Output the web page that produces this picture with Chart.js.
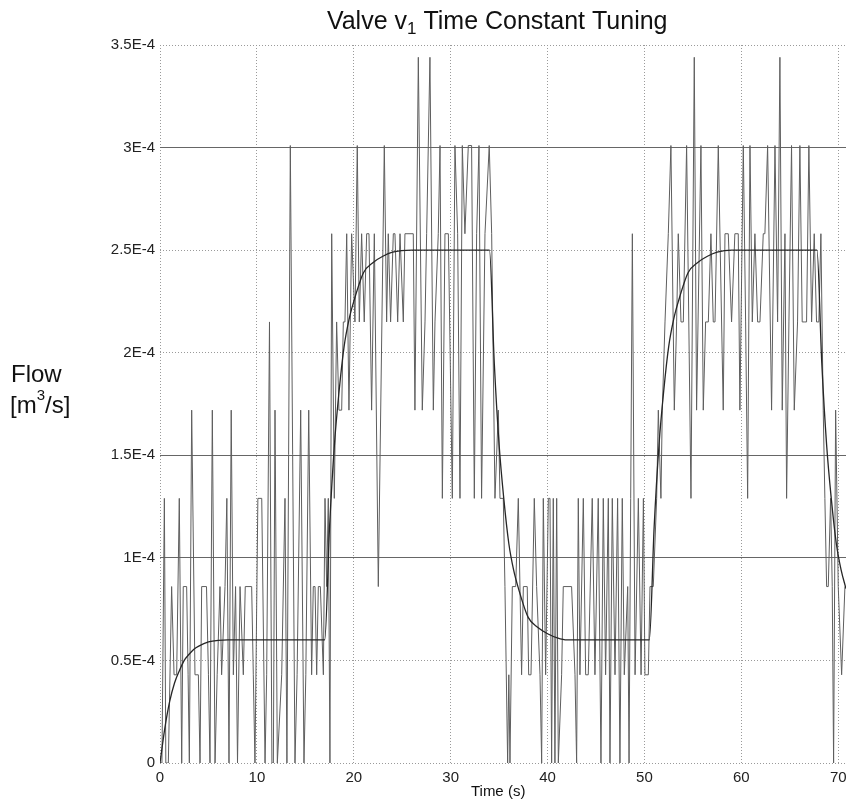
<!DOCTYPE html>
<html>
<head>
<meta charset="utf-8">
<script src="https://cdn.jsdelivr.net/npm/chart.js@4.4.1/dist/chart.umd.min.js"></script>
<style>
  html, body { margin: 0; padding: 0; background: #fff; overflow: hidden; }
</style>
</head>
<body>
<canvas id="myChart" width="846" height="800"></canvas>
<script>
// values are in units of 1E-4 m3/s, time in seconds
var xTicks = [0, 10, 20, 30, 40, 50, 60, 70];
var yTickLabels = ["0", "0.5E-4", "1E-4", "1.5E-4", "2E-4", "2.5E-4", "3E-4", "3.5E-4"];
var darkLines = [1, 1.5, 3];

// measured flow (quantised, noisy)
var measured = [
  [0,0],[0.2,0],[0.45,1.29],[0.6,0],[0.86,0],[1.2,0.86],[1.45,0.43],[1.72,0.43],[1.99,1.29],[2.24,0],
  [2.4,0.86],[2.75,0.86],[2.9,0.43],[3.03,0],[3.27,1.72],[3.61,0.43],[3.96,0.43],[4.13,0],[4.3,0.86],[4.8,0.86],
  [5.0,0.43],[5.16,0],[5.4,1.72],[5.68,0],[5.9,0.43],[6.19,0.86],[6.36,0.43],[6.71,0.86],[6.9,1.29],[7.12,0],
  [7.35,1.72],[7.57,0.43],[7.8,0.86],[8.0,0],[8.26,0.86],[8.6,0.43],[8.8,0.86],[9.46,0.86],[9.63,0.43],[9.8,0],
  [10.1,1.29],[10.5,1.29],[10.84,0],[11.01,0.43],[11.3,2.15],[11.55,0],[11.7,0],[11.87,1.72],[12.11,0],[12.56,0.43],
  [12.9,1.29],[13.1,0],[13.45,3.01],[13.93,0],[14.15,0.43],[14.52,1.72],[14.86,0],[15.05,0.43],[15.35,1.72],[15.65,0.43],
  [15.82,0.86],[16.0,0.86],[16.17,0.43],[16.34,0.86],[16.55,0.86],[16.86,0.43],
  [17.03,1.29],[17.2,0.86],[17.37,1.29],[17.54,0],[17.72,2.58],[17.99,1.29],[18.23,2.15],[18.47,1.72],[18.75,1.72],[18.92,2.15],
  [19.09,2.15],[19.27,2.58],[19.5,1.72],[19.78,2.58],[20.12,2.15],[20.36,3.01],[20.57,2.15],[20.81,2.58],[21.08,2.15],[21.33,2.58],
  [21.57,2.58],[21.84,1.72],[22.12,2.58],[22.53,0.86],[23.15,3.01],[23.39,2.15],[23.56,2.58],[23.8,2.15],[24.08,2.58],[24.25,2.58],
  [24.53,2.15],[24.77,2.58],[25.11,2.15],[25.28,2.58],[26.14,2.58],[26.31,1.72],[26.66,3.44],[27.07,1.72],[27.35,2.15],[27.52,2.58],
  [27.86,3.44],[28.21,1.72],[28.38,2.15],[28.72,2.58],[28.9,3.01],[29.14,1.29],[29.41,2.58],[29.76,2.58],[30.17,1.29],[30.44,3.01],
  [30.72,2.58],[30.96,1.29],[31.2,3.01],[31.47,2.58],[31.82,3.01],[32.16,3.01],[32.44,1.29],[32.68,2.58],[32.92,3.01],[33.19,1.29],
  [33.54,2.58],[33.98,3.01],[34.23,2.58],
  [34.57,1.29],[34.92,1.72],[35.09,1.29],[35.43,1.29],[35.6,0.86],[35.88,0],[36.0,0.43],[36.12,0],[36.36,0.86],[36.71,0.86],
  [36.98,1.29],[37.32,0.43],[37.5,0.86],[37.9,0.86],[38.05,0.43],[38.29,0.43],[38.63,1.29],[38.87,0.86],[39.22,0.43],[39.39,0],
  [39.56,1.29],[39.8,0.43],[40.08,1.29],[40.25,1.29],[40.42,0],[40.59,1.29],[40.76,0],[40.94,1.29],[41.11,0],[41.45,0.43],
  [41.62,0.86],[42.48,0.86],[42.83,0.43],[43.0,0],[43.17,1.29],[43.34,0.43],[43.69,1.29],[43.93,0.43],[44.2,0.43],[44.61,1.29],
  [44.89,0.43],[45.23,1.29],[45.51,0],[45.75,1.29],[45.99,0.43],[46.27,1.29],[46.44,0],[46.68,1.29],[46.96,0.43],[47.23,1.29],
  [47.47,0],[47.71,1.29],[47.92,0.43],[48.27,0.86],[48.41,0],[48.75,2.58],[49.03,0.43],[49.37,1.29],[49.65,0.43],[49.89,1.29],
  [50.05,0.43],[50.4,0.43],[50.57,0.86],[50.91,0.86],[51.26,1.29],[51.43,1.72],[51.7,1.29],[51.84,1.72],
  [52.12,2.15],[52.46,2.58],[52.73,3.01],[53.08,1.72],[53.32,2.15],[53.49,2.58],[53.77,2.15],[54.01,2.15],[54.35,3.01],[54.8,1.29],
  [55.14,3.44],[55.38,1.72],[55.83,3.01],[56.07,1.72],[56.31,2.15],[56.59,2.15],[56.86,2.58],[57.1,2.15],[57.28,2.15],[57.62,3.01],
  [58.13,1.72],[58.31,2.58],[58.65,2.58],[58.99,2.15],[59.33,2.58],[59.68,2.58],[59.85,1.72],[60.2,3.01],[60.44,2.15],[60.65,1.29],
  [60.89,3.01],[61.13,2.15],[61.4,2.58],[61.68,2.15],[61.92,2.15],[62.26,2.58],[62.43,2.58],[62.71,3.01],[63.12,1.72],[63.47,3.01],
  [63.74,2.15],[63.98,3.44],[64.22,1.72],[64.5,2.58],[64.67,1.29],[64.91,2.15],[65.18,3.01],[65.46,1.72],[65.8,2.15],[66.04,3.01],
  [66.28,2.15],[66.49,2.15],[66.73,2.15],[66.97,3.01],[67.25,2.15],[67.52,2.58],[67.76,2.15],[68.0,2.15],[68.21,2.58],[68.45,1.72],
  [68.62,1.29],[68.8,0.86],[68.97,0.86],[69.21,1.29],[69.38,0.86],[69.52,0],[69.73,1.72],[70.0,0.86],[70.35,0.43],[70.69,0.86]
];

// model response (smooth curve)
var model = [
  [0,0],[0.5,0.17],[1,0.3],[1.5,0.39],[2,0.45],[2.5,0.5],[3,0.53],[3.5,0.555],[4,0.57],[5,0.59],[6,0.598],[7,0.6],
  [17,0.6],[17.5,1.15],[18,1.55],[18.5,1.82],[19,2.03],[19.5,2.16],[20,2.25],[21,2.39],[22,2.44],[23,2.47],[24,2.49],[26,2.5],
  [34,2.5],[34.5,1.95],[35,1.55],[35.5,1.28],[36,1.07],[36.5,0.94],[37,0.85],[38,0.71],[39,0.66],[40,0.63],[41,0.61],[42,0.6],
  [50.5,0.6],[51,1.15],[51.5,1.55],[52,1.82],[52.5,2.03],[53,2.16],[53.5,2.25],[54.5,2.39],[55.5,2.44],[56.5,2.47],[57.5,2.49],[59,2.5],
  [67.8,2.5],[68.3,1.95],[68.8,1.55],[69.3,1.28],[69.8,1.07],[70.3,0.94],[70.8,0.85]
];

var FONT = "'Liberation Sans', Arial, sans-serif";

function toXY(pts) {
  return pts.map(function(p){ return {x: p[0], y: p[1]}; });
}

var textPlugin = {
  id: "texts",
  afterDraw: function(chart) {
    var c = chart.ctx;
    var xs = chart.scales.x;
    c.save();
    c.fillStyle = "#111";
    c.textBaseline = "alphabetic";
    c.textAlign = "left";

    // title with subscript
    var big = "25px " + FONT, small = "17px " + FONT;
    var a = "Valve v", b = "1", d = " Time Constant Tuning";
    c.font = big; var wa = c.measureText(a).width, wd = c.measureText(d).width;
    c.font = small; var wb = c.measureText(b).width;
    var x0 = xs.getPixelForValue(34.8) - (wa + wb + wd) / 2;
    var ty = 29;
    c.font = big; c.fillText(a, x0, ty);
    c.font = small; c.fillText(b, x0 + wa, ty + 5);
    c.font = big; c.fillText(d, x0 + wa + wb, ty);

    // y axis label, horizontal, with superscript
    var lf = "24px " + FONT, sf = "15px " + FONT;
    c.font = lf; c.fillText("Flow", 11, 382);
    var p1 = "[m", p2 = "3", p3 = "/s]";
    c.font = lf; var w1 = c.measureText(p1).width;
    c.font = sf; var w2 = c.measureText(p2).width;
    c.font = lf; c.fillText(p1, 10, 413);
    c.font = sf; c.fillText(p2, 10 + w1, 400);
    c.font = lf; c.fillText(p3, 10 + w1 + w2, 413);

    // x axis title
    c.font = "15px " + FONT;
    c.textAlign = "center";
    c.fillText("Time (s)", xs.getPixelForValue(34.9), 796);
    c.restore();
  }
};

var ctx = document.getElementById("myChart").getContext("2d");
var myChart = new Chart(ctx, {
  type: "line",
  data: {
    datasets: [{
      label: "model",
      data: toXY(model),
      borderColor: "#262626",
      borderWidth: 1.3,
      pointRadius: 0,
      cubicInterpolationMode: "monotone",
      fill: false
    }, {
      label: "measured",
      data: toXY(measured),
      borderColor: "#5e5e5e",
      borderWidth: 1,
      pointRadius: 0,
      tension: 0,
      fill: false
    }]
  },
  options: {
    responsive: false,
    animation: false,
    devicePixelRatio: 1,
    layout: { padding: { top: 45, left: 0, right: 0, bottom: 0 } },
    plugins: {
      legend: { display: false },
      tooltip: { enabled: false },
      title: { display: false }
    },
    scales: {
      x: {
        type: "linear",
        min: 0,
        max: 70.8,
        afterBuildTicks: function(s) { s.ticks = xTicks.map(function(v){ return {value: v}; }); },
        afterFit: function(s) { s.height = 37; s.paddingLeft = 0; s.paddingRight = 0; },
        grid: { color: "#9a9a9a", lineWidth: 1, drawTicks: false },
        border: { display: false, dash: [1, 2] },
        ticks: {
          color: "#222",
          font: { size: 15, family: FONT },
          padding: 6,
          maxRotation: 0,
          autoSkip: false
        }
      },
      y: {
        type: "linear",
        position: "left",
        min: 0,
        max: 3.5,
        afterBuildTicks: function(s) { s.ticks = yTickLabels.map(function(l, i){ return {value: i * 0.5}; }); },
        afterFit: function(s) { s.width = 160; s.paddingTop = 0; s.paddingBottom = 0; },
        grid: { color: "#9a9a9a", lineWidth: 1, drawTicks: false },
        border: { display: false, dash: [1, 2] },
        ticks: {
          color: "#222",
          font: { size: 15, family: FONT },
          padding: 5,
          callback: function(v) { return yTickLabels[Math.round(v * 2)]; }
        }
      },
      yDark: {
        type: "linear",
        position: "left",
        min: 0,
        max: 3.5,
        afterBuildTicks: function(s) { s.ticks = darkLines.map(function(v){ return {value: v}; }); },
        afterFit: function(s) { s.width = 0; s.paddingTop = 0; s.paddingBottom = 0; },
        grid: { color: "#666", lineWidth: 1, drawTicks: false },
        border: { display: false },
        ticks: { display: false }
      }
    }
  },
  plugins: [textPlugin]
});
</script>
</body>
</html>
